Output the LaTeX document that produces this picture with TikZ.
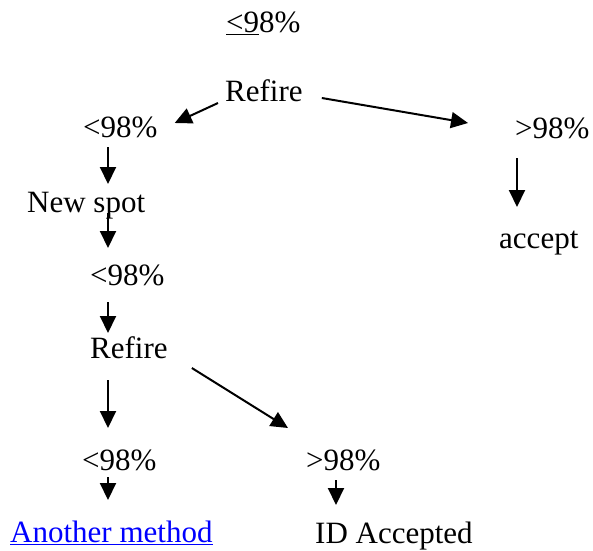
\documentclass[tikz,border=0pt]{standalone}
\usepackage{fontspec}
\setmainfont{Liberation Serif}
\usepackage{tikz}
\usetikzlibrary{arrows.meta,positioning,calc}

\begin{document}
\begin{tikzpicture}[x=1pt,y=-1pt,
    lbl/.style={font=\fontsize{31}{37}\selectfont, inner sep=0pt, anchor=base west},
    arr/.style={line width=2pt, -{Triangle[length=17pt,width=16pt]}}]
                \useasboundingbox (0,0) rectangle (593,550);
                % texts
                \node[lbl] (top) at (226,32) {\underline{<9}8\%};
                \node[lbl] (ref1) at (225,101) {Refire};
                \node[lbl] (lo1) at (83,137) {<98\%};
                \node[lbl] (hi1) at (515,138) {>98\%};
                \node[lbl] (acc) at (499,248) {accept};
                \node[lbl] (ns) at (27,212) {New spot};
                \node[lbl] (lo2) at (90,285) {<98\%};
                \node[lbl] (ref2) at (90,358) {Refire};
                \node[lbl] (lo3) at (82,470) {<98\%};
                \node[lbl] (hi3) at (306,470) {>98\%};
                \node[lbl, text=blue] (am) at (10,542) {\underline{Another method}};
                \node[lbl] (ida) at (315,543) {ID Accepted};
                \coordinate (ax) at (108,0);
                \coordinate (bx) at (336,0);
                \coordinate (cx) at (517,0);
                % arrows
                \draw[arr] ($(ref1.base west)+(-7,2)$) -- ($(lo1.base east)+(17,-14)$);
                \draw[arr] ($(ref1.base east)+(19,-3)$) -- ($(hi1.base west)+(-47,-15)$);
                \draw[arr] ($(hi1.base -| cx)+(0,20)$) -- ($(acc.base -| cx)+(0,-41)$);
                \draw[arr] ($(lo1.base -| ax)+(0,10)$) -- ($(ns.base -| ax)+(0,-28)$);
                \draw[arr] ($(ns.base -| ax)+(0,1)$) -- ($(lo2.base -| ax)+(0,-37)$);
                \draw[arr] ($(lo2.base -| ax)+(0,17)$) -- ($(ref2.base -| ax)+(0,-25)$);
                \draw[arr] ($(ref2.base -| ax)+(0,22)$) -- ($(lo3.base -| ax)+(0,-42)$);
                \draw[arr] ($(ref2.base east)+(24,10)$) -- ($(hi3.base west)+(-18,-42)$);
                \draw[arr] ($(lo3.base -| ax)+(0,7)$) -- ($(am.base -| ax)+(0,-42)$);
                \draw[arr] ($(hi3.base -| bx)+(0,10)$) -- ($(ida.base -| bx)+(0,-38)$);
            \end{tikzpicture}
\end{document}
